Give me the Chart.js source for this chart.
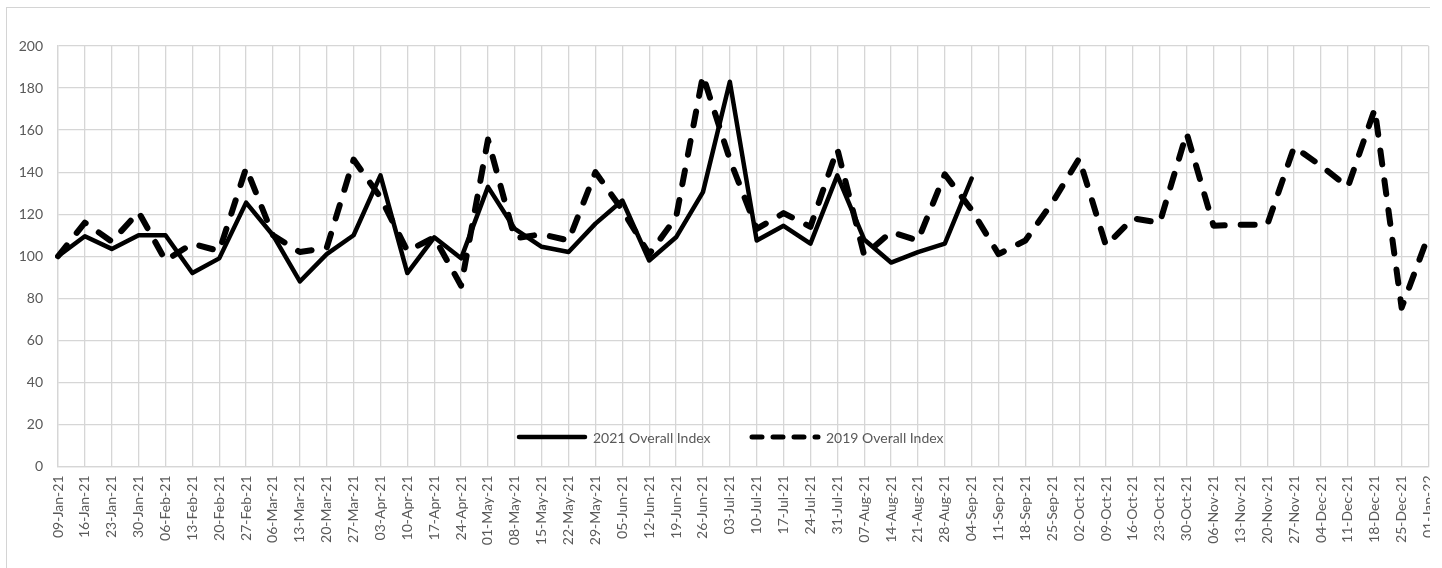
<!DOCTYPE html>
<html>
<head>
<meta charset="utf-8">
<title>Overall Index 2021 vs 2019</title>
<script src="https://cdn.jsdelivr.net/npm/chart.js@4.4.1/dist/chart.umd.min.js"></script>
<style>
  html, body { margin: 0; padding: 0; background: #ffffff; }
  #clip { position: relative; width: 1430px; height: 568px; overflow: hidden; background: #ffffff; }
  #frame { position: absolute; left: 6px; top: 7px; width: 1500px; height: 700px; border: 1px solid #d4d4d4; }
  #chart { position: absolute; left: 0; top: 0; }
</style>
</head>
<body>
<div id="clip">
  <div id="frame"></div>
  <canvas id="chart" width="1460" height="600"></canvas>
</div>
<script>
// Week-ending dates shown on the category axis
const weekLabels = [
  '09-Jan-21','16-Jan-21','23-Jan-21','30-Jan-21',
  '06-Feb-21','13-Feb-21','20-Feb-21','27-Feb-21',
  '06-Mar-21','13-Mar-21','20-Mar-21','27-Mar-21',
  '03-Apr-21','10-Apr-21','17-Apr-21','24-Apr-21',
  '01-May-21','08-May-21','15-May-21','22-May-21','29-May-21',
  '05-Jun-21','12-Jun-21','19-Jun-21','26-Jun-21',
  '03-Jul-21','10-Jul-21','17-Jul-21','24-Jul-21','31-Jul-21',
  '07-Aug-21','14-Aug-21','21-Aug-21','28-Aug-21',
  '04-Sep-21','11-Sep-21','18-Sep-21','25-Sep-21',
  '02-Oct-21','09-Oct-21','16-Oct-21','23-Oct-21','30-Oct-21',
  '06-Nov-21','13-Nov-21','20-Nov-21','27-Nov-21',
  '04-Dec-21','11-Dec-21','18-Dec-21','25-Dec-21',
  '01-Jan-22'
];

// 2021 index (reported up to 04-Sep-21)
const index2021 = [
  100, 109.5, 103.5, 110, 110, 92, 99, 125.5,
  110, 88, 101, 110, 138.5, 92, 109, 99,
  133, 113, 104.5, 102, 115.5, 126.5, 98, 109, 130.5,
  183, 107.5, 114.5, 106, 138.5, 108, 97, 102, 106,
  137
];

// 2019 index for the same weeks
const index2019 = [
  100, 116, 107, 121, 98, 106, 102.5, 142,
  110, 102, 104, 146, 128, 102.5, 109, 86,
  155.5, 108.5, 110.5, 107.5, 140, 122, 101, 118.5, 186,
  146, 113, 120.5, 114, 151, 100.5, 111.5, 107.5, 139,
  122, 101, 107.5, 125.5, 146.5, 105, 118, 116, 158.5,
  114.5, 115, 115, 152, 143, 133, 170, 75.5,
  110
];

// Value axis ticks
const yTicks = { min: 0, max: 200, step: 20 };

const seriesNames = ['2021 Overall Index', '2019 Overall Index'];

const TEXT_COLOR = '#595959';
const GRID_COLOR = '#d6d6d6';
const FONT = { family: 'Lato, "Open Sans", sans-serif', size: 14 };

// Legend drawn inside the plot, just above the category axis
const insideLegend = {
  id: 'insideLegend',
  afterDraw(chart) {
    const { ctx, chartArea } = chart;
    const y = chartArea.bottom - 29.5;
    let x = chartArea.left + 459;
    ctx.save();
    ctx.font = `${FONT.size}px ${FONT.family}`;
    ctx.textBaseline = 'middle';
    ctx.textAlign = 'left';
    chart.data.datasets.forEach((ds, i) => {
      ctx.strokeStyle = '#000000';
      ctx.lineCap = 'round';
      ctx.lineWidth = i === 0 ? 4.5 : 5;
      ctx.setLineDash(i === 0 ? [] : [10, 11]);
      ctx.beginPath();
      ctx.moveTo(x + 2, y);
      ctx.lineTo(x + 68, y);
      ctx.stroke();
      ctx.setLineDash([]);
      ctx.fillStyle = TEXT_COLOR;
      ctx.fillText(ds.label, x + 76, y + 1);
      x += 233;
    });
    ctx.restore();
  }
};

function build() {
  const ctx = document.getElementById('chart').getContext('2d');
  new Chart(ctx, {
    type: 'line',
    data: {
      labels: weekLabels,
      datasets: [
        {
          label: seriesNames[0],
          data: index2021,
          borderColor: '#000000',
          borderWidth: 4.5,
          borderJoinStyle: 'round',
          borderCapStyle: 'round',
          pointRadius: 0,
          tension: 0,
          fill: false,
          order: 1
        },
        {
          label: seriesNames[1],
          data: index2019,
          borderColor: '#000000',
          borderWidth: 6,
          borderDash: [14, 16],
          borderJoinStyle: 'round',
          borderCapStyle: 'round',
          pointRadius: 0,
          tension: 0,
          fill: false,
          order: 0
        }
      ]
    },
    options: {
      responsive: false,
      animation: false,
      devicePixelRatio: 1,
      events: [],
      layout: { padding: { left: 0, top: 46, right: 31.5, bottom: 0 } },
      plugins: {
        legend: { display: false },
        tooltip: { enabled: false }
      },
      scales: {
        x: {
          offset: false,
          grid: { color: GRID_COLOR, lineWidth: 1.3, drawTicks: false, offset: false },
          border: { color: GRID_COLOR, width: 1.3 },
          ticks: {
            color: TEXT_COLOR,
            font: FONT,
            minRotation: 90,
            maxRotation: 90,
            autoSkip: false,
            padding: 9
          },
          afterFit(scale) { scale.height = 600 - 466.5; }
        },
        y: {
          min: yTicks.min,
          max: yTicks.max,
          grid: { color: GRID_COLOR, lineWidth: 1.3, drawTicks: false },
          border: { color: GRID_COLOR, width: 1.3 },
          ticks: {
            stepSize: yTicks.step,
            color: TEXT_COLOR,
            font: FONT,
            padding: 15
          },
          afterFit(scale) { scale.width = 58; }
        }
      }
    },
    plugins: [insideLegend]
  });
}

if (document.fonts && document.fonts.load) {
  document.fonts.load('14px Lato').then(build, build);
} else {
  build();
}
</script>
</body>
</html>
